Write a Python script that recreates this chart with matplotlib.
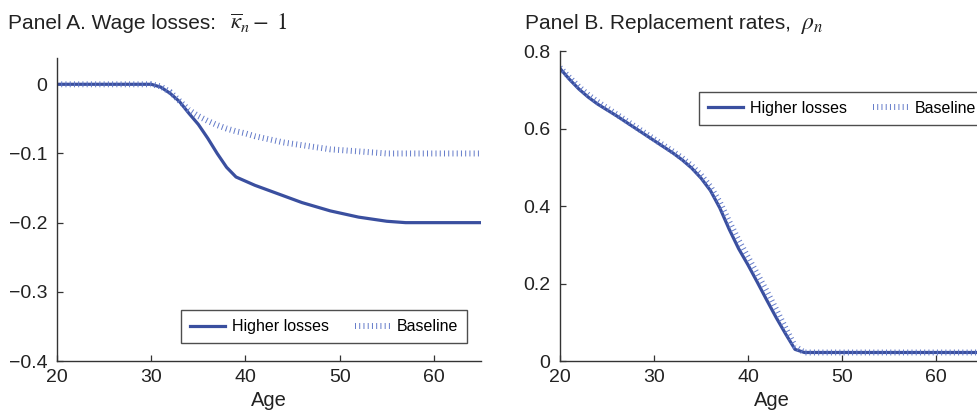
import matplotlib
matplotlib.use("Agg")
import matplotlib.pyplot as plt

plt.rcParams['font.family'] = ['Liberation Sans', 'DejaVu Sans']
plt.rcParams['mathtext.fontset'] = 'stix'

# ages 20..65
ages = list(range(20, 66))

# Panel A: wage losses
loss_higher = [0.0] * 11 + [
    -0.004, -0.013, -0.025, -0.042, -0.058, -0.078, -0.100, -0.120, -0.134,   # 31-39
    -0.140, -0.146, -0.151, -0.156, -0.161, -0.166, -0.171, -0.175, -0.179,   # 40-48
    -0.183, -0.186, -0.189, -0.192, -0.194, -0.196, -0.198, -0.199,           # 49-56
] + [-0.200] * 9
loss_base = [0.0] * 11 + [
    -0.003, -0.011, -0.024, -0.037, -0.046, -0.053, -0.059, -0.064, -0.068,   # 31-39
    -0.071, -0.075, -0.078, -0.081, -0.084, -0.086, -0.088, -0.090, -0.092,   # 40-48
    -0.094, -0.095, -0.096, -0.097, -0.098, -0.099,                           # 49-54
] + [-0.100] * 11

# Panel B: replacement rates
rho_higher = [
    0.755, 0.727, 0.702, 0.681, 0.663, 0.648, 0.633, 0.617, 0.601, 0.585,    # 20-29
    0.569, 0.553, 0.537, 0.519, 0.498, 0.472, 0.440, 0.395, 0.340, 0.290,    # 30-39
    0.248, 0.203, 0.157, 0.112, 0.070, 0.030,                                # 40-45
] + [0.022] * 20
rho_base = [
    0.757, 0.732, 0.708, 0.687, 0.669, 0.653, 0.637, 0.621, 0.605, 0.589,    # 20-29
    0.573, 0.557, 0.541, 0.524, 0.504, 0.480, 0.450, 0.410, 0.360, 0.312,    # 30-39
    0.268, 0.224, 0.180, 0.133, 0.085, 0.038,                                # 40-45
] + [0.022] * 20

xticks = [20, 30, 40, 50, 60]
series_names = ["Higher losses", "Baseline"]

solid_color = '#3a4f9f'
base_color = '#6078c8'
spine_color = '#333333'
W, H = 977, 411

fig = plt.figure(figsize=(W / 100, H / 100), dpi=100)

def px_axes(left, top, right, bottom):
    return fig.add_axes([left / W, 1 - bottom / H, (right - left) / W, (bottom - top) / H])

def style(ax):
    for s in ['top', 'right']:
        ax.spines[s].set_visible(False)
    for s in ['left', 'bottom']:
        ax.spines[s].set_color(spine_color)
        ax.spines[s].set_linewidth(1.0)
    ax.tick_params(direction='in', length=4, width=0.9, colors=spine_color,
                   labelcolor='#222222', labelsize=14)
    ax.tick_params(axis='y', pad=7)
    ax.tick_params(axis='x', pad=6)
    ax.set_xticks(xticks)
    ax.set_xlabel('Age', fontsize=14.5, labelpad=3, color='#222222')

def draw(ax, y_high, y_base):
    ax.plot(ages, y_high, color=solid_color, lw=2.3, label=series_names[0])
    ax.plot(ages, y_base, color=base_color, lw=4.3, linestyle=(0, (0.16, 0.55)),
            dash_capstyle='butt', label=series_names[1])

def legend(ax, **kw):
    leg = ax.legend(ncol=2, fontsize=11.5, frameon=True, fancybox=False,
                    handlelength=2.2, columnspacing=1.6, borderpad=0.55,
                    handletextpad=0.45, borderaxespad=0, **kw)
    leg.get_frame().set_edgecolor('#222222')
    leg.get_frame().set_linewidth(1.0)
    return leg

# Panel A
axA = px_axes(57, 58, 481, 361)
draw(axA, loss_higher, loss_base)
axA.set_xlim(20, 65)
axA.set_ylim(-0.4, 0.038)
axA.set_yticks([0, -0.1, -0.2, -0.3, -0.4])
axA.set_yticklabels(['0', '\u22120.1', '\u22120.2', '\u22120.3', '\u22120.4'])
style(axA)
legend(axA, loc='lower right', bbox_to_anchor=((467 - 57) / 424, (361 - 343) / 303))

# Panel B
axB = px_axes(560, 51, 983, 361)
draw(axB, rho_higher, rho_base)
axB.set_xlim(20, 65)
axB.set_ylim(0, 0.8)
axB.set_yticks([0, 0.2, 0.4, 0.6, 0.8])
axB.set_yticklabels(['0', '0.2', '0.4', '0.6', '0.8'])
style(axB)
legend(axB, loc='upper left', bbox_to_anchor=((699 - 560) / 423, 1 - (92 - 51) / 310))

fig.text(8 / W, 1 - 29 / H, 'Panel A. Wage losses:',
         fontsize=15, color='#222222', va='baseline')
fig.text(230 / W, 1 - 29 / H, r'$\overline{\kappa}_n - \;1$',
         fontsize=16.5, color='#222222', va='baseline')
fig.text(525 / W, 1 - 29 / H, 'Panel B. Replacement rates,',
         fontsize=15, color='#222222', va='baseline')
fig.text(801 / W, 1 - 29 / H, r'$\rho_n$',
         fontsize=17, color='#222222', va='baseline')

fig.savefig('out.png', dpi=100)
